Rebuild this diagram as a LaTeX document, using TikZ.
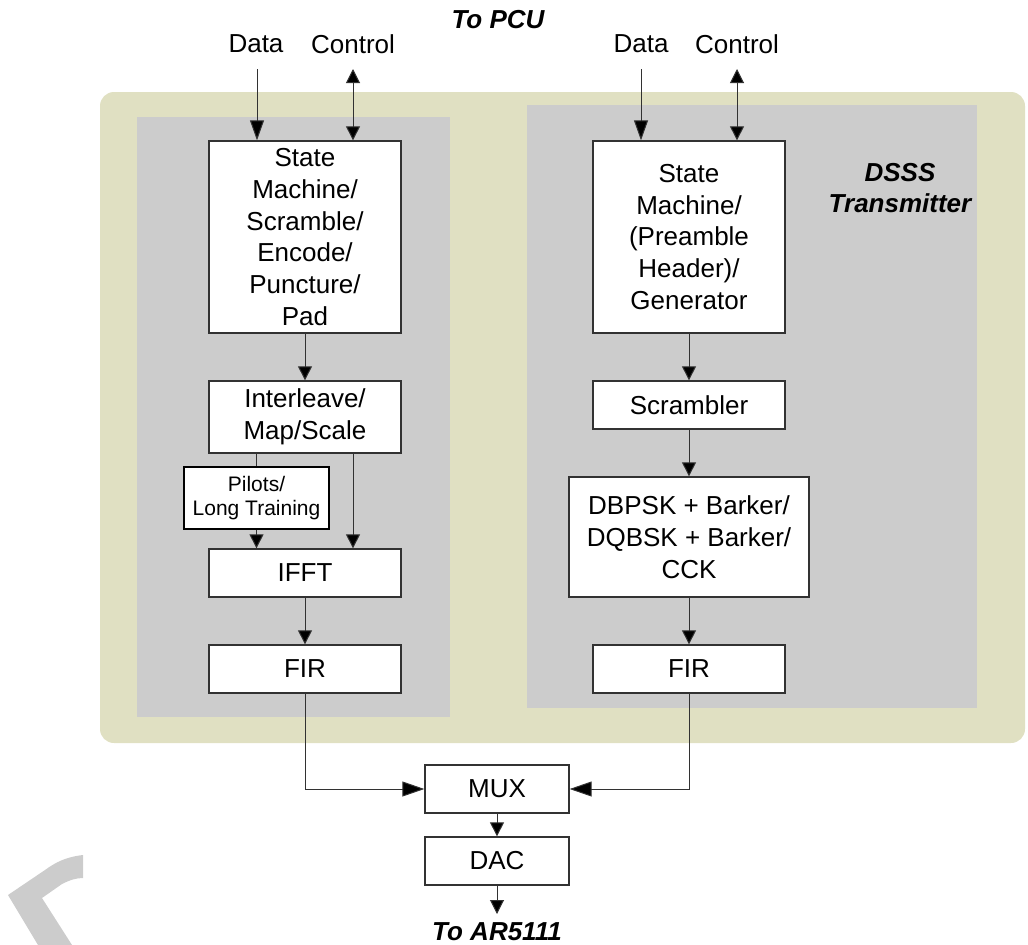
\documentclass[tikz,border=0pt]{standalone}
\usepackage{fontspec}
\setmainfont{Liberation Sans}
\usetikzlibrary{arrows.meta,calc}
\definecolor{fundo}{RGB}{224,224,194}
\definecolor{painel}{RGB}{204,204,204}
\definecolor{linha}{RGB}{50,50,50}
\tikzset{
  bloco/.style={draw=linha, line width=1.3pt, fill=white, align=center, inner sep=0pt,
    minimum width=192pt, minimum height=48pt, font=\fontsize{26}{31.7}\selectfont},
  seta/.style={draw=linha, line width=1pt, -{Triangle[length=14pt,width=14pt,fill=black]}},
  setadupla/.style={seta, {Triangle[length=14pt,width=14pt,fill=black]}-{Triangle[length=14pt,width=14pt,fill=black]}},
  rotulo/.style={font=\fontsize{26}{31.7}\selectfont, inner sep=0pt},
  titulo/.style={font=\fontsize{26}{31.7}\selectfont\bfseries\itshape, inner sep=0pt, align=center},
}
\begin{document}
\begin{tikzpicture}[x=1pt, y=-1pt]
    \useasboundingbox (0,0) rectangle (1028,945);
    \fill[fundo, rounded corners=14pt] (100,92) rectangle (1025,743); % Fundo
    \fill[painel] (137,117) rectangle (450,717); % Painel esquerdo
    \fill[painel] (527,105) rectangle (977,708); % Painel direito
    \fill[painel] (83,855) .. controls (66,857) and (56,862) .. (45,870) -- (8,895) -- (38,945)
        -- (72,945) -- (42,898) -- (62,884) .. controls (70,880) and (76,878) .. (83,878) -- cycle; % Marca

    % Lado esquerdo
    \node[bloco, minimum height=192pt] (smL) at (305,237) {State\\Machine/\\Scramble/\\Encode/\\Puncture/\\Pad};
    \node[bloco, minimum height=72pt] (il) at (305,417) {Interleave/\\Map/Scale};
    \node[bloco, minimum width=145pt, minimum height=62pt, draw=black, line width=2pt,
        font=\fontsize{21}{24}\selectfont] (pil) at (256.5,498) {Pilots/\\Long Training};
    \node[bloco] (ifft) at (305,573) {IFFT};
    \node[bloco] (firL) at (305,669) {FIR};

    % Lado direito
    \node[bloco, minimum height=192pt] (smR) at (689,237) {State\\Machine/\\(Preamble\\Header)/\\Generator};
    \node[bloco] (scr) at (689,405) {Scrambler};
    \node[bloco, minimum width=240pt, minimum height=120pt] (mod) at (689,537) {DBPSK + Barker/\\DQBSK + Barker/\\CCK};
    \node[bloco] (firR) at (689,669) {FIR};

    % Saida
    \node[bloco, minimum width=144pt] (mux) at (497,789) {MUX};
    \node[bloco, minimum width=144pt] (dac) at (497,861) {DAC};

    % Textos
    \node[titulo] (pcu) at (498,19.5) {To PCU};
    \node[rotulo] (dataL) at (256,44) {Data};
    \node[rotulo] (ctrlL) at (353,44) {Control};
    \node[rotulo] (dataR) at (641,44) {Data};
    \node[rotulo] (ctrlR) at (737,44) {Control};
    \node[titulo] (dsss) at (900,188) {DSSS\\Transmitter};
    \node[titulo] (ar) at (497,932) {To AR5111};

    \coordinate (dinL) at (257,69);
    \coordinate (cinL) at (353,69);
    \coordinate (dinR) at (641,69);
    \coordinate (cinR) at (737,69);
    \coordinate (saida) at (497,914);

    % Conexoes
    \draw[seta, -{Triangle[length=20pt,width=14pt,fill=black]}] (dinL) -- (dinL |- smL.north);
    \draw[setadupla] (cinL) -- (cinL |- smL.north);
    \draw[seta, -{Triangle[length=20pt,width=14pt,fill=black]}] (dinR) -- (dinR |- smR.north);
    \draw[setadupla] (cinR) -- (cinR |- smR.north);
    \draw[seta] (smL) -- (il);
    \draw[linha, line width=1pt] (pil.north |- il.south) -- (pil.north);
    \draw[seta] (pil) -- (pil.south |- ifft.north);
    \draw[seta] (cinL |- il.south) -- (cinL |- ifft.north);
    \draw[seta] (ifft) -- (firL);
    \draw[seta] (smR) -- (scr);
    \draw[seta] (scr) -- (mod);
    \draw[seta] (mod) -- (firR);
    \draw[seta, -{Triangle[length=22pt,width=15pt,fill=black]}] (firL) |- (mux);
    \draw[seta, -{Triangle[length=22pt,width=15pt,fill=black]}] (firR) |- (mux);
    \draw[seta] (mux) -- (dac);
    \draw[seta] (dac) -- (saida);
\end{tikzpicture}
\end{document}
